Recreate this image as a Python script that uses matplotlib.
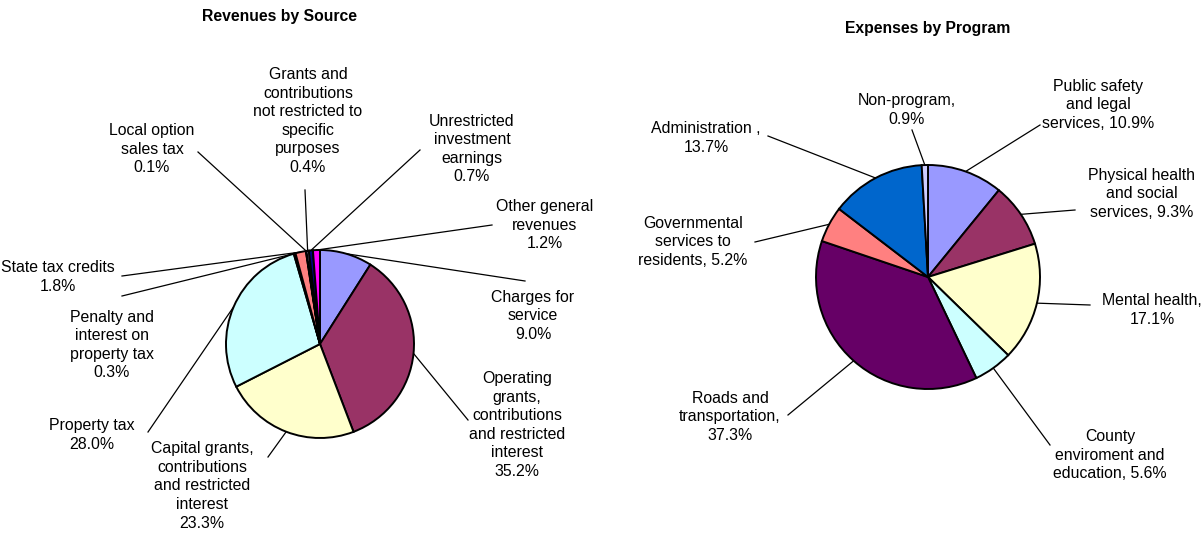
import numpy as np
import matplotlib
matplotlib.use("Agg")
from matplotlib import pyplot as plt

plt.rcParams['font.family'] = ['Liberation Sans', 'DejaVu Sans']

# revenues (clockwise from 12 o'clock)
rev_labels = ['Charges for\nservice\n9.0%',
              'Operating\ngrants,\ncontributions\nand restricted\ninterest\n35.2%',
              'Capital grants,\ncontributions\nand restricted\ninterest\n23.3%',
              'Property tax\n28.0%',
              'Penalty and\ninterest on\nproperty tax\n0.3%',
              'State tax credits\n1.8%',
              'Local option\nsales tax\n0.1%',
              'Grants and\ncontributions\nnot restricted to\nspecific\npurposes\n0.4%',
              'Unrestricted\ninvestment\nearnings\n0.7%',
              'Other general\nrevenues\n1.2%']
rev_values = [9.0, 35.2, 23.3, 28.0, 0.3, 1.8, 0.1, 0.4, 0.7, 1.2]

# expenses (clockwise from 12 o'clock)
exp_labels = ['Public safety\nand legal\nservices, 10.9%',
              'Physical health\nand social\nservices, 9.3%',
              'Mental health,\n17.1%',
              'County\nenviroment and\neducation, 5.6%',
              'Roads and\ntransportation,\n37.3%',
              'Governmental\nservices to\nresidents, 5.2%',
              'Administration ,\n13.7%',
              'Non-program,\n0.9%']
exp_values = [10.9, 9.3, 17.1, 5.6, 37.3, 5.2, 13.7, 0.9]

rev_colors = ['#9999FF', '#993366', '#FFFFCC', '#CCFFFF', '#660066',
              '#FF8080', '#0066CC', '#CCCCFF', '#000080', '#FF00FF']
exp_colors = ['#9999FF', '#993366', '#FFFFCC', '#CCFFFF', '#660066',
              '#FF8080', '#0066CC', '#CCCCFF']

W, H = 1204, 536

# layout in pixel coords (x, y from top): text centre, leader end near text
rev_text = [(533, 316), (517, 425), (202, 486), (92, 435), (112, 345),
            (58, 277), (152, 149), (308, 121), (472, 149), (545, 225)]
rev_lead = [(525, 281), (468, 420), (268, 457), (148, 432), (122, 296),
            (122, 276), (198, 152), (305, 190), (420, 150), (492, 225)]
exp_text = [(1098, 105), (1142, 194), (1152, 310), (1110, 455), (730, 417),
            (693, 242), (706, 138), (907, 110)]
exp_lead = [(1040, 125), (1075, 210), (1090, 305), (1050, 445), (788, 415),
            (755, 242), (768, 136), (912, 130)]


def Y(p):
    return H - p


def draw_pie(ax, values, colors, labels, center, radius, texts, leads):
    wedges, _ = ax.pie(values, colors=colors, startangle=90, counterclock=False,
                       center=(center[0], Y(center[1])), radius=radius,
                       wedgeprops=dict(edgecolor='black', linewidth=1.4))
    for w, lab, t, l in zip(wedges, labels, texts, leads):
        ang = np.deg2rad((w.theta1 + w.theta2) / 2)
        px = center[0] + radius * np.cos(ang)
        py = Y(center[1]) + radius * np.sin(ang)
        ax.plot([px, l[0]], [py, Y(l[1])], color='black', linewidth=0.9, zorder=0)
        ax.text(t[0], Y(t[1]), lab, ha='center', va='center', fontsize=11.4,
                linespacing=1.3)


fig = plt.figure(figsize=(W / 100, H / 100), dpi=100)
ax = fig.add_axes([0, 0, 1, 1])

draw_pie(ax, rev_values, rev_colors, rev_labels, (320, 344), 94, rev_text, rev_lead)
draw_pie(ax, exp_values, exp_colors, exp_labels, (928, 277), 112, exp_text, exp_lead)

ax.text(280, Y(17), 'Revenues by Source', ha='center', va='center',
        fontsize=11.3, fontweight='bold')
ax.text(928, Y(28), 'Expenses by Program', ha='center', va='center',
        fontsize=11.3, fontweight='bold')

ax.set_xlim(0, W)
ax.set_ylim(0, H)
ax.set_aspect('equal')
ax.axis('off')

plt.savefig('out.png', dpi=100)
